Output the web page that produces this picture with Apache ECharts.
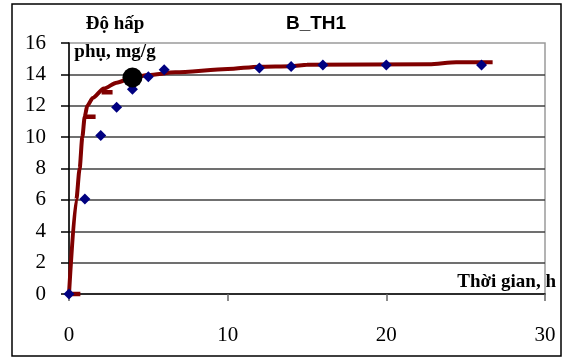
<!DOCTYPE html>
<html>
<head>
<meta charset="utf-8">
<script src="https://cdn.jsdelivr.net/npm/echarts@6/dist/echarts.min.js"></script>
<style>
  html, body { margin: 0; padding: 0; background: #fff; }
  #chart { width: 564px; height: 358px; }
</style>
</head>
<body>
<div id="chart"></div>
<script>
// Adsorption capacity (mg/g) versus contact time (h), sample B_TH1
const timeTicks = [0, 10, 20, 30];
const uptakeTicks = [0, 2, 4, 6, 8, 10, 12, 14, 16];

// measured points
const measuredTime = [0, 1, 2, 3, 4, 5, 6, 12, 14, 16, 20, 26];
const measuredUptake = [0, 6.05, 10.1, 11.9, 13.05, 13.85, 14.3, 14.4, 14.5, 14.6, 14.6, 14.6];

// fitted curve
const modelTime = [0, 0.46, 0.67, 0.84, 0.99, 1.15, 1.5, 2.2, 3, 4, 5, 6.7, 10, 12, 14, 15, 22.7, 24.4, 26.7];
const modelUptake = [0, 6.0, 8.0, 10.0, 11.3, 12.0, 12.5, 13.1, 13.47, 13.8, 13.96, 14.13, 14.34, 14.49, 14.52, 14.62, 14.65, 14.77, 14.77];

// short dash marks on the curve
const dashTime = [0.37, 1.33, 2.4];
const dashUptake = [0, 11.3, 12.86];

// highlighted point
const highlightTime = [4];
const highlightUptake = [13.8];

const zip = (xs, ys) => xs.map((x, i) => [x, ys[i]]);

const serif = 'Liberation Serif';
const tMin = timeTicks[0], tMax = timeTicks[timeTicks.length - 1];
const qMin = uptakeTicks[0], qMax = uptakeTicks[uptakeTicks.length - 1];

const chart = echarts.init(document.getElementById('chart'));

chart.setOption({
  animation: false,
  backgroundColor: '#fff',
  title: [
    {
      text: 'B_TH1',
      left: 316, top: 14, textAlign: 'center', padding: 0,
      textStyle: { fontFamily: 'Liberation Sans', fontWeight: 'bold', fontSize: 19, color: '#000' }
    },
    {
      text: 'Độ hấp\nphụ, mg/g',
      left: 115, top: 10, textAlign: 'center', padding: 0,
      textStyle: { fontFamily: serif, fontWeight: 'bold', fontSize: 19, lineHeight: 28, color: '#000' }
    }
  ],
  graphic: [
    {
      type: 'rect', silent: true,
      shape: { x: 12, y: 4, width: 549, height: 352 },
      style: { fill: 'rgba(0,0,0,0)', stroke: '#000', lineWidth: 1.5 }
    }
  ],
  grid: {
    left: 69, right: 19, top: 43, bottom: 64, containLabel: false,
    show: true, borderColor: '#9a9a9a', borderWidth: 1.5, backgroundColor: 'rgba(0,0,0,0)'
  },
  xAxis: {
    type: 'value', min: tMin, max: tMax, interval: timeTicks[1] - timeTicks[0],
    axisLine: { show: true, onZero: false, lineStyle: { color: '#000', width: 1.5 } },
    axisTick: { show: true, inside: false, length: 7, lineStyle: { color: '#666', width: 1.5 } },
    axisLabel: { margin: 31, fontFamily: serif, fontSize: 21, color: '#000' },
    splitLine: { show: false },
    name: 'Thời gian, h',
    nameLocation: 'end',
    nameGap: 11,
    nameTextStyle: {
      align: 'right', verticalAlign: 'bottom', padding: [0, 0, 2, 0],
      fontFamily: serif, fontWeight: 'bold', fontSize: 19, color: '#000'
    }
  },
  yAxis: {
    type: 'value', min: qMin, max: qMax, interval: uptakeTicks[1] - uptakeTicks[0],
    axisLine: { show: true, lineStyle: { color: '#000', width: 1.5 } },
    axisTick: { show: true, inside: false, length: 8, lineStyle: { color: '#000', width: 1.5 } },
    axisLabel: { margin: 23, fontFamily: serif, fontSize: 21, color: '#000' },
    splitLine: {
      show: true, showMinLine: false, showMaxLine: false,
      lineStyle: { color: '#404040', width: 1.5 }
    }
  },
  series: [
    {
      name: 'model', type: 'line',
      data: zip(modelTime, modelUptake),
      showSymbol: false, smooth: 0.25, smoothMonotone: 'x',
      lineStyle: { color: '#800000', width: 4 },
      z: 2
    },
    {
      name: 'dash', type: 'scatter',
      data: zip(dashTime, dashUptake),
      symbol: 'rect', symbolSize: [11, 4.5],
      itemStyle: { color: '#800000', opacity: 1 },
      z: 2
    },
    {
      name: 'measured', type: 'scatter',
      data: zip(measuredTime, measuredUptake),
      symbol: 'diamond', symbolSize: 11,
      itemStyle: { color: '#000080', opacity: 1 },
      z: 4
    },
    {
      name: 'highlight', type: 'scatter',
      data: zip(highlightTime, highlightUptake),
      symbol: 'circle', symbolSize: 20,
      itemStyle: { color: '#000', opacity: 1 },
      z: 5
    }
  ]
});
</script>
</body>
</html>
